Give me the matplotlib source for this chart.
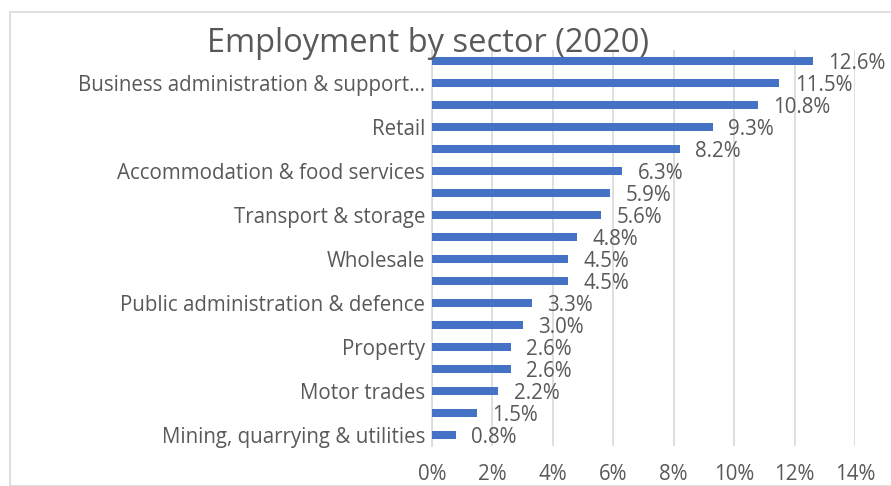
import matplotlib.pyplot as plt
from matplotlib.patches import Rectangle

sectors = [
    '', 'Business administration & support…', '', 'Retail', '',
    'Accommodation & food services', '', 'Transport & storage', '',
    'Wholesale', '', 'Public administration & defence', '', 'Property', '',
    'Motor trades', '', 'Mining, quarrying & utilities',
]
shares = [12.6, 11.5, 10.8, 9.3, 8.2, 6.3, 5.9, 5.6, 4.8, 4.5, 4.5, 3.3,
          3.0, 2.6, 2.6, 2.2, 1.5, 0.8]
x_ticks = [0, 2, 4, 6, 8, 10, 12, 14]

text_col = '#595959'
plt.rcParams['font.family'] = ['Open Sans', 'DejaVu Sans']
fs = 14.8

fig = plt.figure(figsize=(8.91, 4.86), dpi=100)
ax = fig.add_axes([432 / 891, 1 - 446 / 486, 423 / 891, 396 / 486])

pos = list(range(len(shares)))
ax.barh(pos, shares, height=0.37, color='#4472C4', zorder=3)
for p, v in zip(pos, shares):
    ax.annotate(f'{v:.1f}%', (v, p), xytext=(11, -2), textcoords='offset points',
                va='center', ha='left', fontsize=fs, color=text_col)

ax.set_ylim(len(shares) - 0.5, -0.5)
ax.set_xlim(0, 14)
ax.set_yticks(pos)
ax.set_yticklabels(sectors, fontsize=fs, color=text_col)
ax.set_xticks(x_ticks)
ax.set_xticklabels([f'{t}%' for t in x_ticks], fontsize=fs, color=text_col)
ax.tick_params(axis='y', length=0, pad=5)
ax.tick_params(axis='x', length=0, pad=13)
ax.grid(axis='x', color='#d9d9d9', linewidth=1.2, zorder=0)
for s in ['top', 'right', 'bottom']:
    ax.spines[s].set_visible(False)
ax.spines['left'].set_color('#d9d9d9')
ax.spines['left'].set_linewidth(1.2)

fig.text(428 / 891, 1 - 43 / 486, 'Employment by sector (2020)', ha='center',
         va='center', fontsize=23.5, color=text_col)

fig.patches.append(Rectangle((10 / 891, 0), 1, 1 - 12 / 486, transform=fig.transFigure,
                             fill=False, edgecolor='#d9d9d9', linewidth=1.2))

fig.savefig('out.png', dpi=100)
